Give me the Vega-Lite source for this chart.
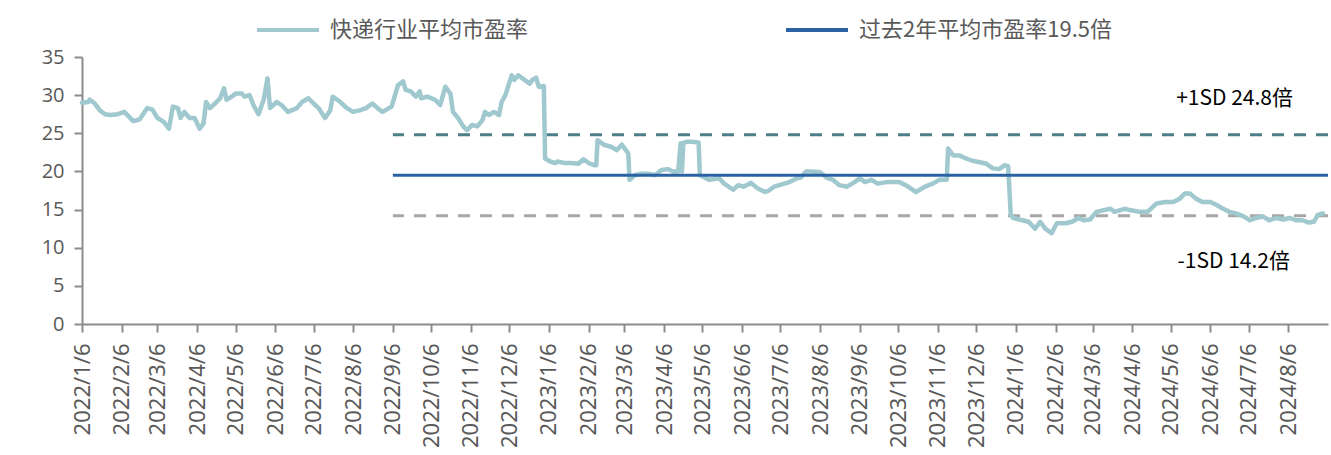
{
  "$schema": "https://vega.github.io/schema/vega-lite/v6.json",
  "width": 1246,
  "height": 267,
  "autosize": {"type": "none"},
  "padding": {"left": 82, "top": 57, "right": 3, "bottom": 131},
  "background": "white",
  "config": {
    "view": {"stroke": null},
    "font": "Noto Sans CJK SC",
    "axis": {
      "grid": false,
      "title": null,
      "domainColor": "#8c8c8c",
      "domainWidth": 2,
      "tickColor": "#8c8c8c",
      "tickWidth": 2,
      "tickSize": 8,
      "labelColor": "#595959"
    },
    "legend": {
      "orient": "none",
      "direction": "horizontal",
      "legendX": 173,
      "legendY": -60,
      "symbolType": "stroke",
      "symbolSize": 3844,
      "symbolStrokeWidth": 4,
      "labelFont": "Noto Sans CJK SC",
      "labelFontSize": 22,
      "labelColor": "#595959",
      "labelOffset": 9,
      "labelLimit": 500,
      "columnPadding": 249,
      "padding": 0,
      "title": null
    }
  },
  "datasets": {
    "pe": [
      {"d": "2022-01-06", "v": 29.0}, {"d": "2022-01-11", "v": 29.1}, {"d": "2022-01-12", "v": 29.4},
      {"d": "2022-01-16", "v": 28.9}, {"d": "2022-01-20", "v": 28.0}, {"d": "2022-01-24", "v": 27.5},
      {"d": "2022-01-28", "v": 27.4}, {"d": "2022-02-03", "v": 27.5}, {"d": "2022-02-08", "v": 27.8},
      {"d": "2022-02-15", "v": 26.6}, {"d": "2022-02-20", "v": 26.8}, {"d": "2022-02-26", "v": 28.3},
      {"d": "2022-03-02", "v": 28.1}, {"d": "2022-03-06", "v": 27.0}, {"d": "2022-03-11", "v": 26.5},
      {"d": "2022-03-15", "v": 25.6}, {"d": "2022-03-18", "v": 28.5}, {"d": "2022-03-22", "v": 28.3},
      {"d": "2022-03-24", "v": 27.0}, {"d": "2022-03-27", "v": 27.8}, {"d": "2022-03-31", "v": 27.0},
      {"d": "2022-04-04", "v": 27.0}, {"d": "2022-04-08", "v": 25.6}, {"d": "2022-04-11", "v": 26.3},
      {"d": "2022-04-13", "v": 29.1}, {"d": "2022-04-16", "v": 28.3}, {"d": "2022-04-20", "v": 28.9},
      {"d": "2022-04-24", "v": 29.6}, {"d": "2022-04-27", "v": 30.9}, {"d": "2022-04-29", "v": 29.4},
      {"d": "2022-05-03", "v": 29.8}, {"d": "2022-05-06", "v": 30.2}, {"d": "2022-05-11", "v": 30.2},
      {"d": "2022-05-13", "v": 29.8}, {"d": "2022-05-17", "v": 30.0}, {"d": "2022-05-20", "v": 28.7},
      {"d": "2022-05-24", "v": 27.5}, {"d": "2022-05-28", "v": 29.4}, {"d": "2022-05-31", "v": 32.2},
      {"d": "2022-06-02", "v": 28.3}, {"d": "2022-06-07", "v": 29.1}, {"d": "2022-06-11", "v": 28.7},
      {"d": "2022-06-16", "v": 27.8}, {"d": "2022-06-23", "v": 28.3}, {"d": "2022-06-27", "v": 29.1},
      {"d": "2022-07-02", "v": 29.6}, {"d": "2022-07-06", "v": 28.9}, {"d": "2022-07-10", "v": 28.3},
      {"d": "2022-07-15", "v": 27.0}, {"d": "2022-07-19", "v": 28.0}, {"d": "2022-07-21", "v": 29.8},
      {"d": "2022-07-27", "v": 29.1}, {"d": "2022-08-01", "v": 28.3}, {"d": "2022-08-06", "v": 27.8},
      {"d": "2022-08-11", "v": 28.0}, {"d": "2022-08-16", "v": 28.3}, {"d": "2022-08-21", "v": 28.9},
      {"d": "2022-08-25", "v": 28.3}, {"d": "2022-08-29", "v": 27.8}, {"d": "2022-09-03", "v": 28.3},
      {"d": "2022-09-05", "v": 28.5}, {"d": "2022-09-07", "v": 29.6}, {"d": "2022-09-10", "v": 31.3},
      {"d": "2022-09-14", "v": 31.8}, {"d": "2022-09-16", "v": 30.7}, {"d": "2022-09-20", "v": 30.5},
      {"d": "2022-09-24", "v": 29.8}, {"d": "2022-09-27", "v": 30.5}, {"d": "2022-09-28", "v": 29.6},
      {"d": "2022-10-03", "v": 29.8}, {"d": "2022-10-09", "v": 29.4}, {"d": "2022-10-13", "v": 28.7},
      {"d": "2022-10-17", "v": 31.1}, {"d": "2022-10-21", "v": 30.2}, {"d": "2022-10-23", "v": 27.8},
      {"d": "2022-10-27", "v": 27.0}, {"d": "2022-10-31", "v": 25.9}, {"d": "2022-11-03", "v": 25.4},
      {"d": "2022-11-07", "v": 26.1}, {"d": "2022-11-11", "v": 25.9}, {"d": "2022-11-15", "v": 26.7},
      {"d": "2022-11-17", "v": 27.8}, {"d": "2022-11-20", "v": 27.4}, {"d": "2022-11-24", "v": 27.8},
      {"d": "2022-11-28", "v": 27.4}, {"d": "2022-11-30", "v": 29.1}, {"d": "2022-12-03", "v": 30.0},
      {"d": "2022-12-05", "v": 31.1}, {"d": "2022-12-08", "v": 32.6}, {"d": "2022-12-10", "v": 32.0},
      {"d": "2022-12-13", "v": 32.6}, {"d": "2022-12-18", "v": 32.0}, {"d": "2022-12-22", "v": 31.5},
      {"d": "2022-12-24", "v": 32.0}, {"d": "2022-12-27", "v": 32.3}, {"d": "2022-12-29", "v": 31.1},
      {"d": "2023-01-02", "v": 31.2}, {"d": "2023-01-03", "v": 21.7}, {"d": "2023-01-07", "v": 21.3},
      {"d": "2023-01-11", "v": 21.1}, {"d": "2023-01-13", "v": 21.3}, {"d": "2023-01-18", "v": 21.1},
      {"d": "2023-01-23", "v": 21.1}, {"d": "2023-01-29", "v": 21.0}, {"d": "2023-02-02", "v": 21.6},
      {"d": "2023-02-06", "v": 21.1}, {"d": "2023-02-11", "v": 20.8}, {"d": "2023-02-12", "v": 20.8},
      {"d": "2023-02-13", "v": 24.1}, {"d": "2023-02-18", "v": 23.5}, {"d": "2023-02-24", "v": 23.2},
      {"d": "2023-02-28", "v": 22.8}, {"d": "2023-03-04", "v": 23.5}, {"d": "2023-03-08", "v": 22.6},
      {"d": "2023-03-09", "v": 22.4}, {"d": "2023-03-10", "v": 18.9}, {"d": "2023-03-14", "v": 19.5},
      {"d": "2023-03-19", "v": 19.7}, {"d": "2023-03-24", "v": 19.7}, {"d": "2023-03-30", "v": 19.5},
      {"d": "2023-04-04", "v": 20.2}, {"d": "2023-04-09", "v": 20.3}, {"d": "2023-04-13", "v": 20.0},
      {"d": "2023-04-17", "v": 20.0}, {"d": "2023-04-19", "v": 23.7}, {"d": "2023-04-20", "v": 20.0},
      {"d": "2023-04-21", "v": 23.7}, {"d": "2023-04-24", "v": 23.9}, {"d": "2023-04-28", "v": 23.9},
      {"d": "2023-05-03", "v": 23.8}, {"d": "2023-05-04", "v": 19.5}, {"d": "2023-05-11", "v": 18.9},
      {"d": "2023-05-19", "v": 19.1}, {"d": "2023-05-23", "v": 18.4}, {"d": "2023-05-30", "v": 17.6},
      {"d": "2023-06-03", "v": 18.2}, {"d": "2023-06-07", "v": 18.0}, {"d": "2023-06-13", "v": 18.5},
      {"d": "2023-06-18", "v": 17.8}, {"d": "2023-06-24", "v": 17.3}, {"d": "2023-06-27", "v": 17.5},
      {"d": "2023-07-01", "v": 18.0}, {"d": "2023-07-05", "v": 18.2}, {"d": "2023-07-09", "v": 18.4},
      {"d": "2023-07-13", "v": 18.6}, {"d": "2023-07-19", "v": 19.1}, {"d": "2023-07-22", "v": 19.2},
      {"d": "2023-07-26", "v": 20.0}, {"d": "2023-07-30", "v": 20.0}, {"d": "2023-08-06", "v": 19.9},
      {"d": "2023-08-11", "v": 19.2}, {"d": "2023-08-16", "v": 18.9}, {"d": "2023-08-21", "v": 18.2},
      {"d": "2023-08-27", "v": 18.0}, {"d": "2023-09-02", "v": 18.6}, {"d": "2023-09-06", "v": 19.1},
      {"d": "2023-09-10", "v": 18.6}, {"d": "2023-09-15", "v": 18.9}, {"d": "2023-09-20", "v": 18.4},
      {"d": "2023-09-27", "v": 18.6}, {"d": "2023-10-07", "v": 18.6}, {"d": "2023-10-12", "v": 18.2},
      {"d": "2023-10-20", "v": 17.3}, {"d": "2023-10-27", "v": 18.0}, {"d": "2023-11-02", "v": 18.4},
      {"d": "2023-11-07", "v": 18.9}, {"d": "2023-11-13", "v": 18.9}, {"d": "2023-11-14", "v": 23.0},
      {"d": "2023-11-18", "v": 22.1}, {"d": "2023-11-23", "v": 22.1}, {"d": "2023-11-28", "v": 21.7},
      {"d": "2023-12-03", "v": 21.4}, {"d": "2023-12-09", "v": 21.2}, {"d": "2023-12-14", "v": 21.0},
      {"d": "2023-12-19", "v": 20.4}, {"d": "2023-12-24", "v": 20.3}, {"d": "2023-12-28", "v": 20.8},
      {"d": "2023-12-31", "v": 20.7}, {"d": "2024-01-02", "v": 14.3}, {"d": "2024-01-04", "v": 13.9},
      {"d": "2024-01-11", "v": 13.6}, {"d": "2024-01-16", "v": 13.4}, {"d": "2024-01-21", "v": 12.5},
      {"d": "2024-01-25", "v": 13.4}, {"d": "2024-01-29", "v": 12.5}, {"d": "2024-02-03", "v": 11.9},
      {"d": "2024-02-07", "v": 13.2}, {"d": "2024-02-14", "v": 13.2}, {"d": "2024-02-19", "v": 13.4},
      {"d": "2024-02-24", "v": 13.9}, {"d": "2024-02-28", "v": 13.6}, {"d": "2024-03-04", "v": 13.7},
      {"d": "2024-03-09", "v": 14.7}, {"d": "2024-03-14", "v": 14.9}, {"d": "2024-03-20", "v": 15.1},
      {"d": "2024-03-23", "v": 14.7}, {"d": "2024-03-31", "v": 15.1}, {"d": "2024-04-05", "v": 14.9},
      {"d": "2024-04-12", "v": 14.7}, {"d": "2024-04-18", "v": 14.7}, {"d": "2024-04-25", "v": 15.8},
      {"d": "2024-05-02", "v": 16.0}, {"d": "2024-05-08", "v": 16.0}, {"d": "2024-05-13", "v": 16.4},
      {"d": "2024-05-17", "v": 17.1}, {"d": "2024-05-21", "v": 17.1}, {"d": "2024-05-26", "v": 16.4},
      {"d": "2024-05-31", "v": 16.0}, {"d": "2024-06-06", "v": 16.0}, {"d": "2024-06-11", "v": 15.6},
      {"d": "2024-06-16", "v": 15.1}, {"d": "2024-06-21", "v": 14.7}, {"d": "2024-06-26", "v": 14.5},
      {"d": "2024-07-02", "v": 14.1}, {"d": "2024-07-07", "v": 13.6}, {"d": "2024-07-12", "v": 13.9},
      {"d": "2024-07-17", "v": 14.1}, {"d": "2024-07-22", "v": 13.6}, {"d": "2024-07-28", "v": 13.9},
      {"d": "2024-08-02", "v": 13.7}, {"d": "2024-08-07", "v": 13.9}, {"d": "2024-08-12", "v": 13.6},
      {"d": "2024-08-17", "v": 13.6}, {"d": "2024-08-22", "v": 13.3}, {"d": "2024-08-26", "v": 13.4},
      {"d": "2024-08-29", "v": 14.3}, {"d": "2024-09-02", "v": 14.5}
    ],
    "bands": [
      {"band": "mean", "start": "2022-09-06", "d": "2024-09-06", "v": 19.5, "label": "过去2年平均市盈率19.5倍"},
      {"band": "plus", "start": "2022-09-06", "d": "2024-09-06", "v": 24.8, "label": "+1SD 24.8倍"},
      {"band": "minus", "start": "2022-09-06", "d": "2024-09-06", "v": 14.2, "label": "-1SD 14.2倍"}
    ]
  },
  "encoding": {
    "x": {
      "field": "d",
      "type": "temporal",
      "scale": {
        "type": "utc",
        "domain": [
          {"year": 2022, "month": 1, "date": 6, "utc": true},
          {"year": 2024, "month": 9, "date": 6, "utc": true}
        ]
      },
      "axis": {
        "labelExpr": "utcFormat(datum.value, '%Y/%-m/%-d')",
        "labelAngle": 270,
        "labelFont": "Noto Sans",
        "labelFontSize": 22,
        "labelPadding": 11,
        "labelOverlap": false,
        "labelFlush": false,
        "values": [
          {"year": 2022, "month": 1, "date": 6, "utc": true}, {"year": 2022, "month": 2, "date": 6, "utc": true},
          {"year": 2022, "month": 3, "date": 6, "utc": true}, {"year": 2022, "month": 4, "date": 6, "utc": true},
          {"year": 2022, "month": 5, "date": 6, "utc": true}, {"year": 2022, "month": 6, "date": 6, "utc": true},
          {"year": 2022, "month": 7, "date": 6, "utc": true}, {"year": 2022, "month": 8, "date": 6, "utc": true},
          {"year": 2022, "month": 9, "date": 6, "utc": true}, {"year": 2022, "month": 10, "date": 6, "utc": true},
          {"year": 2022, "month": 11, "date": 6, "utc": true}, {"year": 2022, "month": 12, "date": 6, "utc": true},
          {"year": 2023, "month": 1, "date": 6, "utc": true}, {"year": 2023, "month": 2, "date": 6, "utc": true},
          {"year": 2023, "month": 3, "date": 6, "utc": true}, {"year": 2023, "month": 4, "date": 6, "utc": true},
          {"year": 2023, "month": 5, "date": 6, "utc": true}, {"year": 2023, "month": 6, "date": 6, "utc": true},
          {"year": 2023, "month": 7, "date": 6, "utc": true}, {"year": 2023, "month": 8, "date": 6, "utc": true},
          {"year": 2023, "month": 9, "date": 6, "utc": true}, {"year": 2023, "month": 10, "date": 6, "utc": true},
          {"year": 2023, "month": 11, "date": 6, "utc": true}, {"year": 2023, "month": 12, "date": 6, "utc": true},
          {"year": 2024, "month": 1, "date": 6, "utc": true}, {"year": 2024, "month": 2, "date": 6, "utc": true},
          {"year": 2024, "month": 3, "date": 6, "utc": true}, {"year": 2024, "month": 4, "date": 6, "utc": true},
          {"year": 2024, "month": 5, "date": 6, "utc": true}, {"year": 2024, "month": 6, "date": 6, "utc": true},
          {"year": 2024, "month": 7, "date": 6, "utc": true}, {"year": 2024, "month": 8, "date": 6, "utc": true}
        ]
      }
    },
    "y": {
      "field": "v",
      "type": "quantitative",
      "scale": {"domain": [0, 35], "nice": false, "zero": true},
      "axis": {
        "values": [0, 5, 10, 15, 20, 25, 30, 35],
        "labelFont": "Open Sans",
        "labelFontSize": 20,
        "labelPadding": 10
      }
    }
  },
  "layer": [
    {
      "data": {"name": "bands"},
      "transform": [{"filter": "datum.band === 'plus'"}],
      "mark": {"type": "rule", "color": "#4d7f86", "strokeWidth": 3, "strokeDash": [12, 10]},
      "encoding": {"x2": {"field": "start"}}
    },
    {
      "data": {"name": "bands"},
      "transform": [{"filter": "datum.band === 'minus'"}],
      "mark": {"type": "rule", "color": "#a6a6a6", "strokeWidth": 3, "strokeDash": [12, 10]},
      "encoding": {"x2": {"field": "start"}}
    },
    {
      "data": {"name": "pe"},
      "mark": {"type": "line", "strokeWidth": 4.5, "strokeJoin": "round", "strokeCap": "round"},
      "encoding": {
        "color": {
          "datum": "快递行业平均市盈率",
          "type": "nominal",
          "scale": {
            "domain": ["快递行业平均市盈率", "过去2年平均市盈率19.5倍"],
            "range": ["#9fc8cf", "#2b62a3"]
          }
        }
      }
    },
    {
      "data": {"name": "bands"},
      "transform": [{"filter": "datum.band === 'mean'"}],
      "mark": {"type": "rule", "strokeWidth": 3},
      "encoding": {
        "x2": {"field": "start"},
        "color": {"datum": "过去2年平均市盈率19.5倍", "type": "nominal"}
      }
    },
    {
      "data": {"name": "bands"},
      "transform": [{"filter": "datum.band === 'plus'"}],
      "mark": {"type": "text", "font": "Noto Sans CJK SC", "fontSize": 21, "color": "#000000", "dx": -35, "dy": -36, "align": "right", "baseline": "middle"},
      "encoding": {"text": {"field": "label"}}
    },
    {
      "data": {"name": "bands"},
      "transform": [{"filter": "datum.band === 'minus'"}],
      "mark": {"type": "text", "font": "Noto Sans CJK SC", "fontSize": 21, "color": "#000000", "dx": -38, "dy": 46, "align": "right", "baseline": "middle"},
      "encoding": {"text": {"field": "label"}}
    }
  ]
}
